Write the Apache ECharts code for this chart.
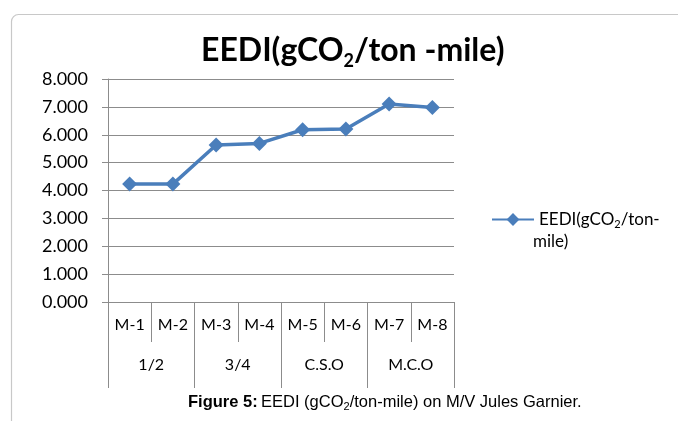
<!DOCTYPE html>
<html>
<head>
<meta charset="utf-8">
<script src="https://cdn.jsdelivr.net/npm/echarts@6/dist/echarts.min.js"></script>
<style>
  html, body { margin: 0; padding: 0; background: #fff; }
  #chart { width: 678px; height: 421px; }
</style>
</head>
<body>
<div id="chart"></div>
<script>
// machine runs, grouped by load condition
const runs = ['M-1', 'M-2', 'M-3', 'M-4', 'M-5', 'M-6', 'M-7', 'M-8']
const groups = ['1/2', '3/4', 'C.S.O', 'M.C.O']
const eedi = [4.23, 4.23, 5.63, 5.69, 6.18, 6.21, 7.10, 6.98]
const yTicks = { min: 0, max: 8, interval: 1 }

const FONT = 'Lato, "Open Sans", sans-serif'
const CAPTION_FONT = '"Liberation Sans", Arial, sans-serif'
const GRAY = '#8c8c8c'
const BLUE = '#4a7ebb'

const chart = echarts.init(document.getElementById('chart'))

chart.setOption({
  backgroundColor: '#fff',
  animation: false,
  title: {
    text: '{a|EEDI(gCO}{s|2}{a|/ton -mile)}',
    left: 196,
    top: 27,
    textStyle: {
      rich: {
        a: { fontFamily: FONT, fontWeight: 'bold', fontSize: 32, color: '#000', lineHeight: 38 },
        s: { fontFamily: FONT, fontWeight: 'bold', fontSize: 18, color: '#000', lineHeight: 12, verticalAlign: 'bottom' },
      },
    },
  },
  legend: {
    left: 486,
    top: 206,
    itemWidth: 42,
    itemHeight: 16,
    itemGap: 4,
    data: ['EEDI'],
    formatter: () => '{a|EEDI(gCO}{s|2}{a|/ton-}',
    textStyle: {
      rich: {
        a: { fontFamily: FONT, fontSize: 17, color: '#000', lineHeight: 20 },
        s: { fontFamily: FONT, fontSize: 11, color: '#000', lineHeight: 8, verticalAlign: 'bottom' },
      },
    },
  },
  grid: { left: 108, right: 224, top: 79, bottom: 119 },
  xAxis: [
    {
      type: 'category',
      data: runs,
      position: 'bottom',
      axisLine: { lineStyle: { color: GRAY, width: 1 } },
      axisTick: { show: true, interval: 0, length: 40, lineStyle: { color: GRAY } },
      axisLabel: { interval: 0, margin: 15, fontFamily: FONT, fontSize: 16, color: '#000' },
    },
    {
      type: 'category',
      data: groups,
      position: 'bottom',
      offset: 0,
      axisLine: { show: false },
      axisTick: { show: true, interval: 0, length: 86, lineStyle: { color: GRAY } },
      axisLabel: { interval: 0, margin: 55, fontFamily: FONT, fontSize: 16, color: '#000' },
    },
  ],
  yAxis: {
    type: 'value',
    min: yTicks.min,
    max: yTicks.max,
    interval: yTicks.interval,
    axisLine: { show: true, lineStyle: { color: GRAY } },
    axisTick: { show: true, length: 6, lineStyle: { color: GRAY } },
    splitLine: { lineStyle: { color: GRAY, width: 1 } },
    axisLabel: {
      margin: 20,
      fontFamily: FONT,
      fontSize: 18,
      color: '#000',
      formatter: (v) => v.toFixed(3),
    },
  },
  series: [
    {
      name: 'EEDI',
      type: 'line',
      xAxisIndex: 0,
      data: eedi,
      symbol: 'diamond',
      symbolSize: 15,
      lineStyle: { color: BLUE, width: 3.5 },
      itemStyle: { color: BLUE },
    },
  ],
  graphic: [
    {
      type: 'rect',
      left: 9,
      top: 12,
      shape: { width: 720, height: 460, r: 7 },
      style: { fill: 'none', stroke: '#c8c8c8', lineWidth: 1.2 },
      silent: true,
    },
    {
      type: 'text',
      left: 533,
      top: 233,
      style: { text: 'mile)', fontFamily: FONT, fontSize: 17, fill: '#000' },
    },
    {
      type: 'text',
      left: 188,
      top: 394,
      style: {
        text: '{b|Figure 5:} {n|EEDI (gCO}{s|2}{n|/ton-mile) on M/V Jules Garnier.}',
        rich: {
          b: { fontFamily: CAPTION_FONT, fontWeight: 'bold', fontSize: 16.5, fill: '#000', lineHeight: 20 },
          n: { fontFamily: CAPTION_FONT, fontSize: 16.5, fill: '#000', lineHeight: 20 },
          s: { fontFamily: CAPTION_FONT, fontSize: 11, fill: '#000', lineHeight: 8, verticalAlign: 'bottom' },
        },
      },
    },
  ],
})
</script>
</body>
</html>
